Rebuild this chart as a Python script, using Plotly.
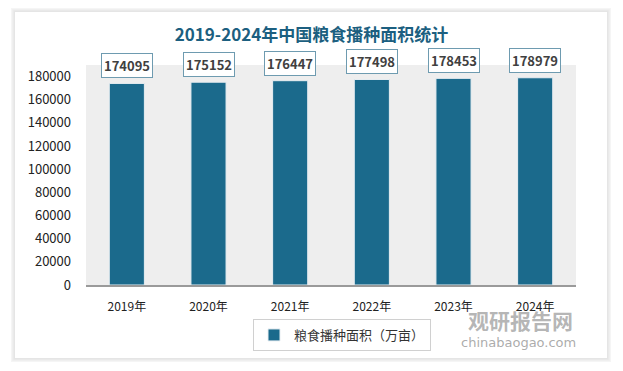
import plotly.graph_objects as go

years = ["2019年", "2020年", "2021年", "2022年", "2023年", "2024年"]
values = [174095, 175152, 176447, 177498, 178453, 178979]
series_name = "粮食播种面积（万亩）"
title_text = "2019-2024年中国粮食播种面积统计"
y_ticks = [0, 20000, 40000, 60000, 80000, 100000, 120000, 140000, 160000, 180000]

W, H = 623, 371
L, R, T, B = 86, 47, 65, 86
pw, ph = W - L - R, H - T - B

def px_x(x):
    return (x - L) / pw

def px_y(y):
    return (H - B - y) / ph

FONT = "Noto Sans CJK SC, Noto Sans, sans-serif"
bar_color = "#1b6a8c"

fig = go.Figure()
fig.add_trace(go.Bar(
    x=list(range(len(years))), y=values, name=series_name,
    marker=dict(color=bar_color, line=dict(color="#e8eef2", width=1)),
    width=0.43,
    showlegend=True,
))

shapes = []
for i, c in enumerate(["#f5f5f5", "#ededed", "#e5e5e5"]):
    d = 4 - i * 1.3
    shapes.append(dict(type="rect", xref="paper", yref="paper", layer="below",
                       x0=px_x(15 - d), x1=px_x(607 + d), y0=px_y(358 + d), y1=px_y(12 - d),
                       fillcolor=c, line=dict(width=0)))
shapes.append(dict(type="rect", xref="paper", yref="paper", layer="below",
                   x0=px_x(15), x1=px_x(607), y0=px_y(358), y1=px_y(12),
                   fillcolor="white", line=dict(width=0)))
shapes.append(dict(type="rect", xref="paper", yref="paper", layer="below",
                   x0=0, x1=1, y0=0, y1=1,
                   fillcolor="#eeeeee", line=dict(width=0)))

annotations = []
for i, v in enumerate(values):
    annotations.append(dict(
        x=i, y=v, xref="x", yref="y", text=f"<b>{v}</b>", showarrow=False,
        yanchor="bottom", yshift=5,
        font=dict(family=FONT, size=13, color="#404040"),
        bgcolor="white", bordercolor="#6e9bb0", borderwidth=1, borderpad=2,
    ))
annotations.append(dict(x=px_x(520), y=px_y(320), xref="paper", yref="paper",
                        xanchor="center", yanchor="middle",
                        text="<b>观研报告网</b>", showarrow=False,
                        font=dict(family=FONT, size=21, color="rgba(150,150,150,0.7)")))
annotations.append(dict(x=px_x(518), y=px_y(342), xref="paper", yref="paper",
                        xanchor="center", yanchor="middle",
                        text="chinabaogao.com", showarrow=False,
                        font=dict(family="DejaVu Sans, sans-serif", size=13, color="rgba(150,150,150,0.8)")))

fig.update_layout(
    width=W, height=H,
    margin=dict(l=L, r=R, t=T, b=B),
    paper_bgcolor="white",
    plot_bgcolor="rgba(0,0,0,0)",
    title=dict(text=f"<b>{title_text}</b>", x=0.5, xanchor="center", y=1 - 35 / H, yanchor="middle",
               font=dict(family=FONT, size=17, color="#1c5f80")),
    xaxis=dict(range=[-0.5, 5.5], tickvals=list(range(len(years))), ticktext=years,
               showgrid=False, zeroline=False, showline=True, linecolor="#9a9a9a", linewidth=1.5,
               ticks="", ticklabelstandoff=10, tickfont=dict(family=FONT, size=12, color="#222222")),
    yaxis=dict(range=[0, 190000], tickvals=y_ticks, showgrid=False, zeroline=False,
               showline=False, ticks="", tickformat="d", ticklabelstandoff=14,
               tickfont=dict(family=FONT, size=13, color="#222222")),
    legend=dict(orientation="h", x=px_x(342), xanchor="center", y=px_y(335), yanchor="middle",
                bgcolor="white", bordercolor="#d0d0d0", borderwidth=1,
                font=dict(family=FONT, size=13, color="#333333")),
    shapes=shapes,
    annotations=annotations,
    bargap=0.57,
)

fig.write_html("out.html", config={"displayModeBar": False},
               post_script="document.body.style.margin='0';document.body.style.padding='0';")
